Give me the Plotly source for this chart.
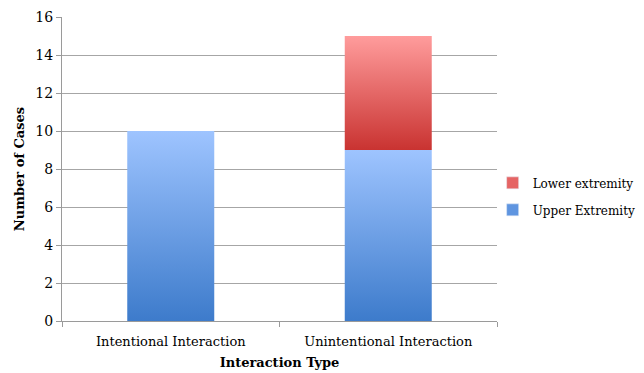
import plotly.graph_objects as go

categories = ["Intentional Interaction", "Unintentional Interaction"]
upper_extremity = [10, 9]
lower_extremity = [0, 6]

series = [
    ("Upper Extremity", upper_extremity, ["#3D7BCB", "#9EC4FF"], "#5F95E0"),
    ("Lower extremity", lower_extremity, ["#C93331", "#FF9C9C"], "#E56464"),
]

bar_width = 0.4
FONT = "DejaVu Serif"

fig = go.Figure()
base = [0.0] * len(categories)
for name, vals, cols, mid in series:
    for i, v in enumerate(vals):
        if v <= 0:
            continue
        x0, x1 = i - bar_width / 2, i + bar_width / 2
        y0, y1 = base[i], base[i] + v
        fig.add_trace(go.Scatter(
            x=[x0, x1, x1, x0, x0], y=[y0, y0, y1, y1, y0],
            mode="lines", fill="toself", line=dict(width=0),
            fillgradient=dict(type="vertical", colorscale=[[0, cols[0]], [1, cols[1]]]),
            name=name, showlegend=False, hoverinfo="skip",
        ))
    base = [b + v for b, v in zip(base, vals)]

# legend entries (top to bottom: stacked order reversed)
for name, vals, cols, mid in reversed(series):
    fig.add_trace(go.Bar(x=[None], y=[None], name=name, legendgroup=name,
                         marker=dict(color=mid)))

fig.update_layout(
    width=644, height=373,
    margin=dict(l=62, r=147, t=17, b=52, autoexpand=False),
    plot_bgcolor="white", paper_bgcolor="white",
    font=dict(family=FONT, size=13, color="#000"),
    legend=dict(x=0.99, y=0.41, xanchor="left", yanchor="middle",
                traceorder="grouped", font=dict(size=12), itemwidth=30,
                tracegroupgap=8, bgcolor="rgba(0,0,0,0)"),
    xaxis=dict(
        range=[-0.5, len(categories) - 0.5],
        tickvals=list(range(len(categories))), ticktext=categories,
        ticks="", showgrid=False, zeroline=False, ticklabelstandoff=8,
        showline=True, linecolor="#9a9a9a", linewidth=1,
        minor=dict(tickvals=[k - 0.5 for k in range(len(categories) + 1)],
                   ticks="outside", ticklen=5, tickcolor="#9a9a9a", showgrid=False),
        title=dict(text="<b>Interaction Type</b>", font=dict(size=13), standoff=10),
        fixedrange=True,
    ),
    yaxis=dict(
        range=[0, 16], dtick=2, tick0=0,
        showgrid=True, gridcolor="#a6a6a6", gridwidth=1,
        zeroline=False, showline=True, linecolor="#9a9a9a", linewidth=1,
        ticks="outside", ticklen=5, tickcolor="#9a9a9a", tickfont=dict(size=14),
        title=dict(text="<b>Number of Cases</b>", font=dict(size=13), standoff=7),
    ),
)

fig.write_html("out.html")
